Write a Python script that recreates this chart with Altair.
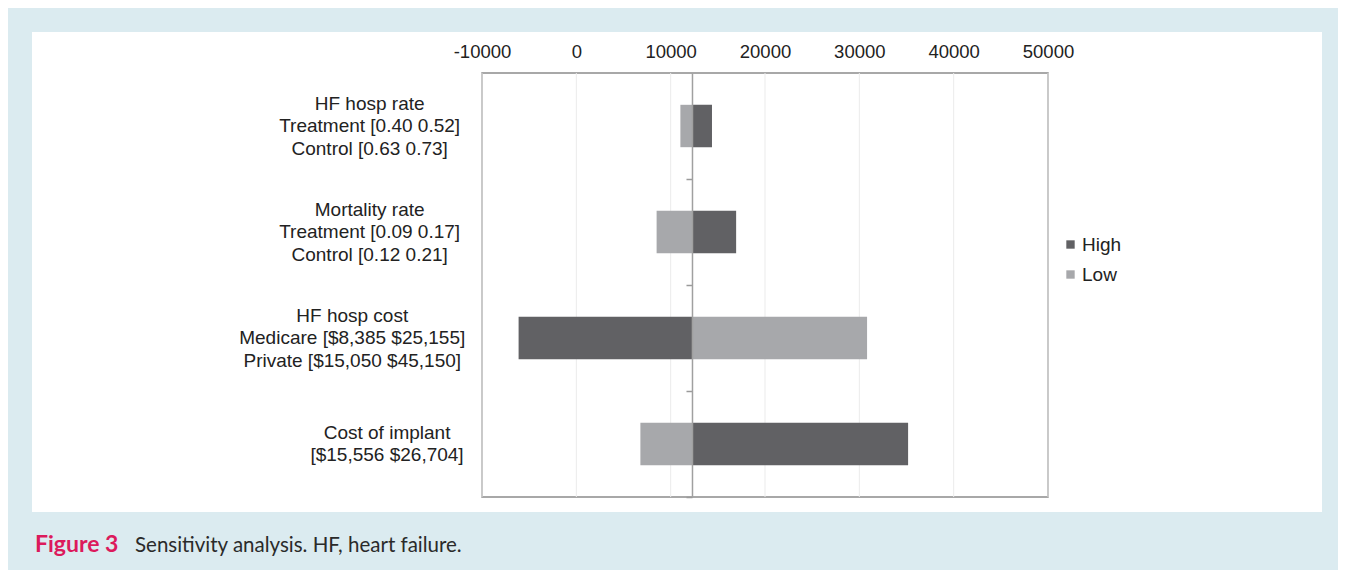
import altair as alt
import pandas as pd

# ---- data ----
categories = [
    "HF hosp rate\nTreatment [0.40 0.52]\nControl [0.63 0.73]",
    "Mortality rate\nTreatment [0.09 0.17]\nControl [0.12 0.21]",
    "HF hosp cost\nMedicare [$8,385 $25,155]\nPrivate [$15,050 $45,150]",
    "Cost of implant\n[$15,556 $26,704]",
]
high_values = [14380, 16940, -6120, 35170]
low_values = [11030, 8510, 30820, 6790]
baseline = 12260
x_ticks = [-10000, 0, 10000, 20000, 30000, 40000, 50000]
series = ["High", "Low"]
series_colors = ["#616164", "#a7a8ab"]
caption_label = "Figure 3"
caption_text = "Sensitivity analysis. HF, heart failure."

# ---- layout ----
W, H = 566, 424
XMIN, XMAX = -10000, 50000
FONT = "Liberation Sans"
LABEL_SIZE = 19
LINE_H = 22.5
CHAR_W = 8.7
PAD_IN, PAD_OUT = 0.6, 0.3

rows = []
for c, h, l in zip(categories, high_values, low_values):
    rows.append({"cat": c, "series": "High", "value": h, "base": baseline})
    rows.append({"cat": c, "series": "Low", "value": l, "base": baseline})
df = pd.DataFrame(rows)

step = H / (len(categories) - PAD_IN + 2 * PAD_OUT)
band = step * (1 - PAD_IN)
# ticks between categories: half a gap below each band, in band units
tick_band_pos = 1 + PAD_IN / (2 * (1 - PAD_IN))

lab_df = pd.DataFrame({"cat": categories})
# centre of each label block, derived from its longest line and line count
lab_df["cx"] = [-(21 + max(len(s) for s in c.split("\n")) * CHAR_W / 2) for c in categories]
lab_df["yoff"] = [band / 2 - (len(c.split("\n")) - 1) / 2 * LINE_H for c in categories]

xscale = alt.Scale(domain=[XMIN, XMAX], nice=False, zero=False)
yscale = alt.Scale(domain=categories, paddingInner=PAD_IN, paddingOuter=PAD_OUT)
axis_offset = -(baseline - XMIN) / (XMAX - XMIN) * W

bg = alt.Chart(alt.Data(values=[{}])).mark_rect(color="white").encode(
    x=alt.value(-450), x2=alt.value(840), y=alt.value(-41), y2=alt.value(439)
)

grid = alt.Chart(pd.DataFrame({"t": x_ticks})).mark_rule(color="#ebebeb", strokeWidth=1).encode(
    x=alt.X("t:Q", scale=xscale,
            axis=alt.Axis(orient="top", values=x_ticks, title=None, domain=False, ticks=False,
                          tickSize=0, grid=False, labelPadding=12, labelFontSize=18.5,
                          labelFont=FONT, labelColor="#222222", labelFlush=False,
                          labelOverlap=False, labelExpr="'' + datum.value", zindex=1))
)

bars = alt.Chart(df).mark_bar().encode(
    x=alt.X("value:Q", scale=xscale, title=None),
    x2="base:Q",
    y=alt.Y("cat:N", scale=yscale, sort=categories,
            axis=alt.Axis(orient="left", offset=axis_offset, labels=False, title=None,
                          ticks=True, tickSize=6, tickWidth=1.5, bandPosition=tick_band_pos,
                          grid=False, domainColor="#a0a0a0", tickColor="#9a9a9a",
                          domainWidth=1.5, zindex=1)),
    color=alt.Color("series:N", scale=alt.Scale(domain=series, range=series_colors),
                    legend=alt.Legend(orient="none", legendX=579, legendY=162, title=None,
                                      symbolType="square", symbolSize=70, symbolStrokeWidth=0,
                                      labelFontSize=19, labelFont=FONT, labelColor="#222222",
                                      rowPadding=10, labelOffset=2)),
)

frame = alt.Chart(alt.Data(values=[{}])).mark_rect(
    filled=False, stroke="#8c8c8c", strokeWidth=1.5
).encode(x=alt.value(0), x2=alt.value(W), y=alt.value(0), y2=alt.value(H))

main = alt.layer(grid, bars)

labels = alt.Chart(lab_df).mark_text(
    align="center", baseline="middle", lineBreak="\n", fontSize=LABEL_SIZE, lineHeight=LINE_H,
    font=FONT, color="#222222"
).encode(
    x=alt.X("cx:Q", scale=None, axis=None),
    y=alt.Y("cat:N", scale=yscale, sort=categories, axis=None),
    yOffset=alt.YOffset("yoff:Q", scale=None),
    text="cat:N",
)

cap1 = alt.Chart(alt.Data(values=[{"t": caption_label}])).mark_text(
    align="left", baseline="alphabetic", font="Lato", fontSize=23, fontWeight="bold",
    color="#dc1a5c"
).encode(x=alt.value(-447), y=alt.value(479), text="t:N")

cap2 = alt.Chart(alt.Data(values=[{"t": caption_text}])).mark_text(
    align="left", baseline="alphabetic", font="Lato", fontSize=20.5, color="#2a2a2a"
).encode(x=alt.value(-347), y=alt.value(479), text="t:N")

chart = alt.layer(bg, frame, main, labels, cap1, cap2).resolve_scale(
    x="independent"
).resolve_axis(y="independent").properties(
    width=W, height=H,
    autosize=alt.AutoSizeParams(type="none"),
    padding={"left": 474, "top": 65, "right": 290, "bottom": 73},
    background="#dbebf0",
).configure_view(stroke=None)

chart.save("out.html", embed_options={"renderer": "svg", "actions": False})
